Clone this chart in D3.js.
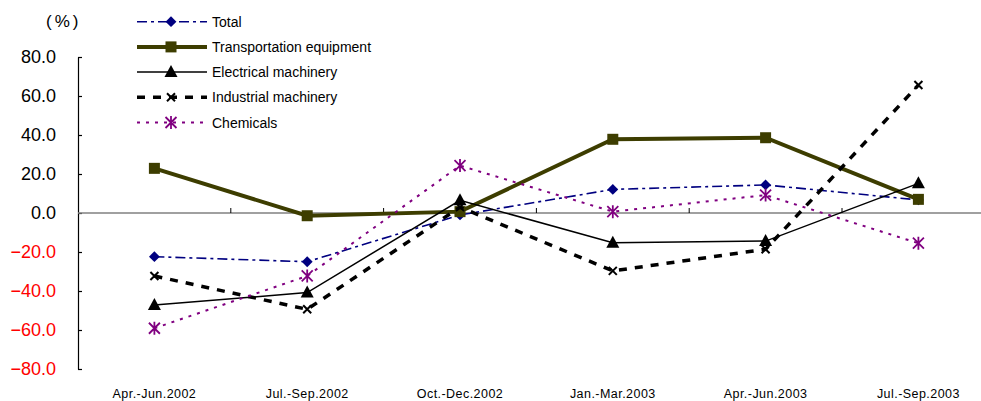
<!DOCTYPE html>
<html>
<head>
<meta charset="utf-8">
<script src="https://cdn.jsdelivr.net/npm/d3@7"></script>
<style>
  body { margin: 0; background: #fff; }
  svg { display: block; font-family: "Liberation Sans", Arial, sans-serif; }
</style>
</head>
<body>
<svg id="chart" width="981" height="401"></svg>
<script>
// Quarterly year-on-year change (%) by industry
const categories = ["Apr.-Jun.2002", "Jul.-Sep.2002", "Oct.-Dec.2002", "Jan.-Mar.2003", "Apr.-Jun.2003", "Jul.-Sep.2003"];
const total          = [-22.4, -25.0, -1.0, 12.1, 14.4, 6.7];
const transportation = [22.9, -1.4, 0.7, 37.8, 38.6, 7.0];
const electrical     = [-47.2, -40.8, 6.5, -15.2, -14.4, 15.2];
const industrial     = [-32.3, -49.4, 3.0, -29.7, -18.6, 65.6];
const chemicals      = [-59.1, -32.3, 24.3, 0.7, 9.2, -15.5];
const yTicks = [80, 60, 40, 20, 0, -20, -40, -60, -80];

const series = [
  { name: "Total", values: total, color: "#000080", width: 1.6, dash: "10,4,3,4", marker: "diamond" },
  { name: "Transportation equipment", values: transportation, color: "#3d3d00", width: 4, dash: null, marker: "square" },
  { name: "Electrical machinery", values: electrical, color: "#000000", width: 1.5, dash: null, marker: "triangle" },
  { name: "Industrial machinery", values: industrial, color: "#000000", width: 3.5, dash: "8,8", marker: "x" },
  { name: "Chemicals", values: chemicals, color: "#800080", width: 2, dash: "3,6", marker: "star" }
];

const svg = d3.select("#chart");
const left = 78, bandW = 152.8;
const x = d3.scaleBand().domain(categories).range([left, left + bandW * categories.length]);
const y = d3.scaleLinear().domain([-80, 80]).range([369, 57]);
const cx = c => x(c) + x.bandwidth() / 2;

// y axis with inward ticks
const yAxis = svg.append("g")
  .attr("transform", `translate(${left},0)`)
  .call(d3.axisLeft(y).tickValues(yTicks).tickSize(-4).tickSizeOuter(0).tickPadding(22).tickFormat(d3.format(".1f")));
yAxis.select(".domain").attr("stroke", "#000").attr("stroke-width", 1.2);
yAxis.selectAll(".tick line").attr("stroke", "#000").attr("stroke-width", 1.2);
yAxis.selectAll(".tick text")
  .attr("font-size", 18)
  .attr("font-family", "Liberation Sans, Arial, sans-serif")
  .attr("fill", d => d < 0 ? "#ff0000" : "#000");

// zero baseline with category divider ticks
svg.append("line")
  .attr("x1", left).attr("x2", 981)
  .attr("y1", y(0)).attr("y2", y(0))
  .attr("stroke", "#808080").attr("stroke-width", 1.5);
svg.append("g").selectAll("line")
  .data(categories.slice(0, -1))
  .join("line")
  .attr("x1", d => x(d) + x.bandwidth()).attr("x2", d => x(d) + x.bandwidth())
  .attr("y1", y(0)).attr("y2", y(0) - 5)
  .attr("stroke", "#000").attr("stroke-width", 1);

// category labels
const xAxis = svg.append("g")
  .attr("transform", "translate(0,389)")
  .call(d3.axisBottom(x).tickSize(0).tickPadding(0));
xAxis.select(".domain").remove();
xAxis.selectAll(".tick text")
  .attr("font-size", 12.5)
  .attr("letter-spacing", 0.45)
  .attr("font-family", "Liberation Sans, Arial, sans-serif")
  .attr("fill", "#000");

// unit label
svg.append("text")
  .attr("x", 46).attr("y", 27)
  .attr("font-size", 17)
  .attr("letter-spacing", 3)
  .attr("fill", "#000")
  .text("(%)");

function drawMarker(g, type, color, px, py) {
  if (type === "diamond") {
    g.append("path").attr("d", d3.symbol(d3.symbolDiamond2, 75)()).attr("transform", `translate(${px},${py})`).attr("fill", color);
  } else if (type === "square") {
    g.append("rect").attr("x", px - 5.5).attr("y", py - 5.5).attr("width", 11).attr("height", 11).attr("fill", color);
  } else if (type === "triangle") {
    g.append("path").attr("d", `M${px},${py - 7}L${px + 6.5},${py + 5}L${px - 6.5},${py + 5}Z`).attr("fill", color);
  } else if (type === "x") {
    const s = 4;
    g.append("path").attr("d", `M${px - s},${py - s}L${px + s},${py + s}M${px - s},${py + s}L${px + s},${py - s}`)
      .attr("stroke", color).attr("stroke-width", 2).attr("fill", "none");
  } else if (type === "star") {
    const s = 5.5;
    g.append("path").attr("d", `M${px - s},${py - s}L${px + s},${py + s}M${px - s},${py + s}L${px + s},${py - s}M${px},${py - s - 1}L${px},${py + s + 1}`)
      .attr("stroke", color).attr("stroke-width", 1.8).attr("fill", "none");
  }
}

const line = d3.line().x((d, i) => cx(categories[i])).y(d => y(d));

series.forEach(s => {
  const g = svg.append("g");
  g.append("path")
    .attr("d", line(s.values))
    .attr("fill", "none")
    .attr("stroke", s.color)
    .attr("stroke-width", s.width)
    .attr("stroke-dasharray", s.dash);
  s.values.forEach((v, i) => drawMarker(g, s.marker, s.color, cx(categories[i]), y(v)));
});

// legend
const legend = svg.append("g");
series.forEach((s, i) => {
  const ly = 21.7 + i * 25.2;
  const g = legend.append("g");
  g.append("line")
    .attr("x1", 137).attr("x2", 207).attr("y1", ly).attr("y2", ly)
    .attr("stroke", s.color).attr("stroke-width", s.width)
    .attr("stroke-dasharray", s.dash);
  drawMarker(g, s.marker, s.color, 171, ly);
  g.append("text")
    .attr("x", 212).attr("y", ly + 5)
    .attr("font-size", 14)
    .attr("fill", "#000")
    .text(s.name);
});
</script>
</body>
</html>
